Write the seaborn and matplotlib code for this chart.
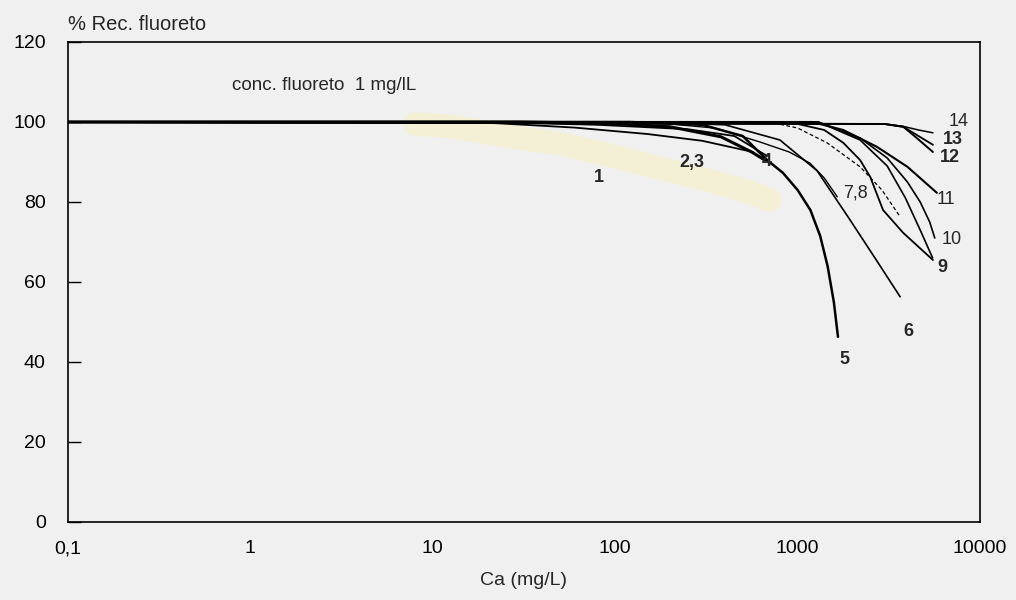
import matplotlib
matplotlib.use("Agg")
import matplotlib.pyplot as plt
import numpy as np
import pandas as pd
import seaborn as sns
from matplotlib.ticker import FixedLocator, FuncFormatter, NullLocator

# Fluoride recovery (%) versus calcium concentration (mg/L), 1 mg/L fluoride
ca_c1 = [8, 12, 23, 50, 83, 160, 292, 500, 706]
rec_c1 = [99.5, 99.0, 96.8, 94.5, 92.3, 89.0, 86.0, 83.0, 80.5]

ca_c2 = [0.1, 17, 60, 150, 300, 570]
rec_c2 = [100, 100, 98.6, 97.0, 95.3, 92.5]

ca_c3 = [0.1, 20, 80, 250, 450, 680]
rec_c3 = [100, 100, 99.3, 98.2, 96.5, 91.5]

ca_c4 = [0.1, 30, 100, 200, 380, 560, 660]
rec_c4 = [100, 100, 99.6, 98.8, 96.3, 92.5, 90.5]

ca_c5 = [0.1, 120, 300, 500, 680, 830, 1000, 1175, 1330, 1460, 1580, 1665]
rec_c5 = [100, 100, 99.3, 96.5, 90.5, 87.3, 83.0, 78.0, 71.5, 64.0, 55.0, 46.3]

ca_c6 = [0.1, 150, 400, 800, 1280, 1940, 2700, 3650]
rec_c6 = [100, 100, 99.3, 95.5, 87.8, 75.5, 65.5, 56.3]

ca_c7 = [0.1, 150, 350, 622, 900, 1170, 1400, 1650]
rec_c7 = [100, 100, 98.5, 95.0, 92.5, 89.7, 86.0, 81.3]

ca_c8 = [0.1, 700, 1000, 1450, 2200, 2900, 3650]
rec_c8 = [100, 100, 98.5, 94.8, 88.8, 83.0, 76.3]

ca_c9a = [0.1, 900, 1400, 1780, 2200, 2500, 2940, 3790, 5520]
rec_c9a = [100, 100, 98.0, 94.8, 90.5, 86.3, 78.0, 72.3, 65.5]

ca_c9b = [0.1, 1300, 2200, 3100, 3900, 4700, 5500]
rec_c9b = [100, 100, 95.5, 89.0, 81.0, 73.0, 66.0]

ca_c10 = [0.1, 1300, 2200, 3100, 4000, 4700, 5300, 5650]
rec_c10 = [100, 100, 96.0, 91.0, 85.0, 80.0, 75.0, 71.0]

ca_c11 = [0.1, 1200, 1780, 2720, 4000, 5800]
rec_c11 = [100, 100, 98.0, 93.8, 88.8, 82.3]

ca_c12 = [0.1, 3000, 3800, 4500, 5520]
rec_c12 = [100, 99.5, 98.8, 96.0, 92.5]

ca_c13 = [0.1, 3000, 3800, 4600, 5520]
rec_c13 = [100, 99.5, 98.8, 96.5, 94.3]

ca_c14 = [0.1, 3000, 3800, 4600, 5520]
rec_c14 = [100, 99.5, 98.9, 98.0, 97.3]

x_ticks = [0.1, 1, 10, 100, 1000, 10000]
x_tick_labels = ["0,1", "1", "10", "100", "1000", "10000"]
y_ticks = [0, 20, 40, 60, 80, 100, 120]

sns.set_theme(style="ticks")
plt.rcParams["font.family"] = ["Liberation Sans", "DejaVu Sans"]

bg = "#f0f0f0"
fig = plt.figure(figsize=(10.16, 6.0), dpi=100, facecolor=bg)
ax = fig.add_axes([68 / 1016, 78 / 600, 912 / 1016, 480 / 600])
ax.set_facecolor(bg)

# curve 1 is a pale highlighter-like band
sns.lineplot(x=ca_c1, y=rec_c1, ax=ax, color="#f7f0b8", lw=17, alpha=0.45,
             estimator=None, sort=False, solid_capstyle="round")

black_curves = [
    (ca_c2, rec_c2, 1.3, "-"),
    (ca_c3, rec_c3, 1.3, "-"),
    (ca_c4, rec_c4, 2.2, "-"),
    (ca_c5, rec_c5, 1.8, "-"),
    (ca_c6, rec_c6, 1.2, "-"),
    (ca_c7, rec_c7, 1.0, "-"),
    (ca_c8, rec_c8, 0.9, (0, (3, 2))),
    (ca_c9a, rec_c9a, 1.3, "-"),
    (ca_c9b, rec_c9b, 1.2, "-"),
    (ca_c10, rec_c10, 1.2, "-"),
    (ca_c11, rec_c11, 1.5, "-"),
    (ca_c12, rec_c12, 1.4, "-"),
    (ca_c13, rec_c13, 1.3, "-"),
    (ca_c14, rec_c14, 1.1, "-"),
]
for cx, cy, lw, ls in black_curves:
    sns.lineplot(x=cx, y=cy, ax=ax, color="black", lw=lw, linestyle=ls,
                 estimator=None, sort=False)

ax.set_xscale("log")
ax.set_xlim(0.1, 10000)
ax.set_ylim(0, 120)

ax.xaxis.set_major_locator(FixedLocator(x_ticks))
ax.xaxis.set_minor_locator(NullLocator())
ax.xaxis.set_major_formatter(FuncFormatter(lambda v, p: x_tick_labels[x_ticks.index(v)] if v in x_ticks else ""))
ax.set_yticks(y_ticks)

ax.tick_params(axis="y", direction="in", length=9, width=1, pad=16,
               labelsize=14, colors="black", left=True, right=False)
ax.tick_params(axis="x", length=0, pad=13, labelsize=14, colors="black")

for s in ax.spines.values():
    s.set_visible(True)
    s.set_color("black")
    s.set_linewidth(1.2)

ax.set_xlabel("Ca (mg/L)", fontsize=14, labelpad=11)
ax.set_ylabel("")
ax.text(0.0, 1.0 + 17 / 480, "% Rec. fluoreto", transform=ax.transAxes,
        ha="left", va="center", fontsize=14.5)
ax.text(0.79, 109.25, "conc. fluoreto  1 mg/lL", ha="left", va="center", fontsize=13.5)

curve_labels = [
    ("1", 81.5, 86.1, "bold"),
    ("2,3", 264, 89.75, "bold"),
    ("4", 680, 90.25, "bold"),
    ("5", 1795, 40.75, "bold"),
    ("6", 4030, 47.5, "bold"),
    ("7,8", 2065, 82.25, "normal"),
    ("9", 6190, 63.5, "bold"),
    ("10", 7030, 70.5, "normal"),
    ("11", 6510, 80.75, "normal"),
    ("12", 6850, 91.0, "bold"),
    ("13", 7100, 95.7, "bold"),
    ("14", 7590, 100.2, "normal"),
]
for txt, lx, ly, fw in curve_labels:
    ax.text(lx, ly, txt, ha="center", va="center", fontsize=13, fontweight=fw)

fig.savefig("out.png", dpi=100, facecolor=bg)
